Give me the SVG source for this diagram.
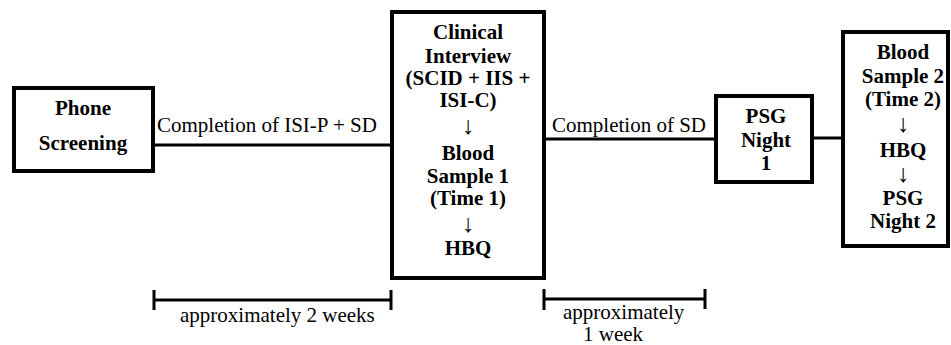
<svg xmlns="http://www.w3.org/2000/svg" width="951" height="345" viewBox="0 0 951 345">
<style>
.box{fill:#fff;stroke:#000;stroke-width:4}
.ln{fill:none;stroke:#000;stroke-width:3}
.b{font-family:"Liberation Serif","Times New Roman",serif;font-weight:bold;font-size:21px;text-anchor:middle;fill:#000}
.r{font-family:"Liberation Serif","Times New Roman",serif;font-size:21px;fill:#000}
.ar{font-family:"Liberation Serif","DejaVu Serif",serif;font-size:25px;text-anchor:middle;fill:#000}
</style>
<rect width="951" height="345" fill="#fff"/>
<g id="connectors">
<line class="ln" x1="153" y1="145" x2="392" y2="145"/>
<line class="ln" x1="544" y1="139" x2="716" y2="139"/>
<line class="ln" x1="812" y1="138" x2="843" y2="138"/>
<text class="r" x="157" y="132">Completion of ISI-P + SD</text>
<text class="r" x="552" y="132">Completion of SD</text>
</g>
<g id="phone">
<rect class="box" x="14" y="88" width="139" height="83"/>
<text class="b" x="83" y="115">Phone</text>
<text class="b" x="83" y="150">Screening</text>
</g>
<g id="clinical">
<rect class="box" x="392" y="12" width="152" height="266"/>
<text class="b" x="468" y="39">Clinical</text>
<text class="b" x="468" y="63">Interview</text>
<text class="b" x="468" y="85">(SCID + IIS +</text>
<text class="b" x="468" y="107">ISI-C)</text>
<text class="ar" x="468" y="134">↓</text>
<text class="b" x="468" y="160">Blood</text>
<text class="b" x="468" y="183">Sample 1</text>
<text class="b" x="468" y="205">(Time 1)</text>
<text class="ar" x="468" y="232">↓</text>
<text class="b" x="468" y="255">HBQ</text>
</g>
<g id="psg1">
<rect class="box" x="716" y="96" width="96" height="86"/>
<text class="b" x="766" y="123">PSG</text>
<text class="b" x="766" y="147">Night</text>
<text class="b" x="766" y="170">1</text>
</g>
<g id="blood2">
<rect class="box" x="843" y="32" width="105" height="214"/>
<text class="b" x="903" y="59">Blood</text>
<text class="b" x="903" y="83">Sample 2</text>
<text class="b" x="903" y="106">(Time 2)</text>
<text class="ar" x="903" y="132">↓</text>
<text class="b" x="903" y="157">HBQ</text>
<text class="ar" x="903" y="182">↓</text>
<text class="b" x="903" y="205">PSG</text>
<text class="b" x="903" y="228">Night 2</text>
</g>
<g id="interval1">
<line class="ln" x1="154" y1="300" x2="391" y2="300"/>
<line class="ln" x1="154" y1="290" x2="154" y2="310"/>
<line class="ln" x1="391" y1="290" x2="391" y2="310"/>
<text class="r" x="180" y="322">approximately 2 weeks</text>
</g>
<g id="interval2">
<line class="ln" x1="544" y1="299" x2="705" y2="299"/>
<line class="ln" x1="544" y1="289" x2="544" y2="310"/>
<line class="ln" x1="705" y1="289" x2="705" y2="309"/>
<text class="r" x="563" y="319">approximately</text>
<text class="r" x="583" y="341">1 week</text>
</g>
</svg>
